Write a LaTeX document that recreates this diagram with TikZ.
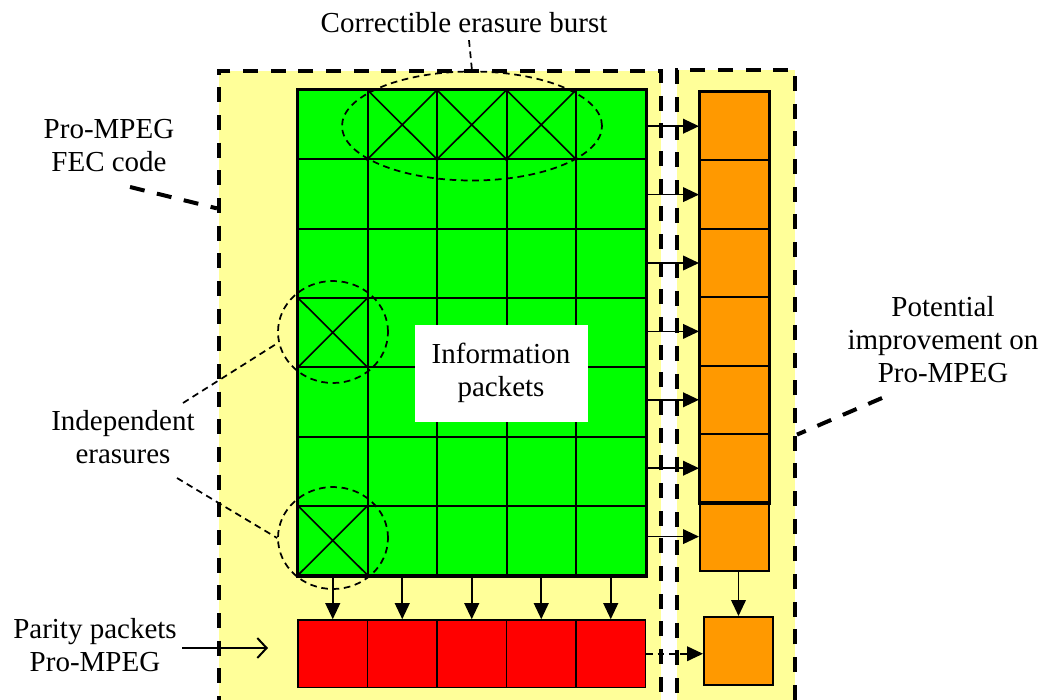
\documentclass[tikz,border=0pt]{standalone}
\usepackage{fontspec}
\setmainfont{Liberation Serif}
\usetikzlibrary{arrows.meta,shapes.geometric,calc}
\definecolor{pale}{HTML}{FFFF99}
\definecolor{grn}{HTML}{00FF00}
\definecolor{org}{HTML}{FF9900}
\definecolor{rd}{HTML}{FF0000}
\begin{document}
\begin{tikzpicture}[x=0.75pt,y=-0.75pt,
  bigdash/.style={line width=3pt, dash pattern=on 11.25pt off 9.5pt},
  thindash/.style={line width=1.3pt, dash pattern=on 5pt off 3.5pt},
  cell/.style={draw, line width=1.5pt, fill=grn, inner sep=0pt, minimum width=52.125pt, minimum height=51.975pt},
  ocell/.style={draw, line width=1.5pt, fill=org, inner sep=0pt, minimum width=51.75pt, minimum height=51.3pt},
  pcell/.style={draw, line width=1.2pt, fill=rd, inner sep=0pt, minimum width=52.125pt, minimum height=50.6pt},
  arr/.style={line width=1.3pt, -{Triangle[length=12pt,width=11pt]}},
  openarr/.style={line width=1.5pt, -{Straight Barb[length=7pt,width=15pt]}},
  lbl/.style={font=\fontsize{21.75}{24.75}\selectfont, align=center, inner sep=0pt},
  erase/.style={ellipse, draw, thindash, inner sep=0pt},
  region/.style={draw, bigdash, fill=pale, inner sep=0pt}
]
\useasboundingbox (0,0) rectangle (1041,699);
\clip (0,0) rectangle (1041,699);
% regions
\node[region, minimum width=331.5pt, minimum height=486.75pt] (fecbox) at (440,395.5) {};
\node[region, minimum width=88.5pt, minimum height=487.5pt] (potbox) at (736,395) {};
% information grid
\foreach \r in {1,...,7}
  \foreach \c in {1,...,5}
    \node[cell] (g-\r-\c) at ({298+69.5*(\c-0.5)}, {90+69.3*(\r-0.5)}) {};
\draw[line width=2.2pt] (g-1-1.north west) rectangle (g-7-5.south east);
\foreach \n in {1-2,1-3,1-4,4-1,7-1}
  \draw[line width=1.2pt] (g-\n.north west) -- (g-\n.south east)
                          (g-\n.north east) -- (g-\n.south west);
\node[lbl, fill=white, minimum width=129.75pt, minimum height=72.75pt] (info) at (501,373) {Information\\packets};
% orange column
\foreach \i in {1,...,7}
  \node[ocell] (o\i) at (734.5, {92+68.4*(\i-0.5)}) {};
\draw[line width=2pt] (o1.north west) rectangle (o6.south east);
\foreach \i in {1,...,7}
  \draw[arr] (o\i.west -| g-1-5.east) -- (o\i.west);
% parity row
\foreach \c in {1,...,5}
  \node[pcell] (p\c) at ({298+69.5*(\c-0.5)}, 653.75) {};
\foreach \c in {1,...,5}
  \draw[arr] (g-7-\c.south) -- (p\c.north);
% small orange box
\node[ocell, minimum height=51pt] (s) at (738.5,651) {};
\draw[arr] (s.north |- o7.south) -- (s.north);
\draw[arr, dash pattern=on 5pt off 3.5pt] (p5.east) -- (p5.east -| s.west);
% erasure ellipses
\node[erase, minimum width=195pt, minimum height=81.75pt] (burst) at (472,126) {};
\node[erase, minimum width=82.5pt, minimum height=76.5pt] (e1) at (333,332) {};
\node[erase, minimum width=82.5pt, minimum height=76.5pt] (e2) at (333,538) {};
% labels
\node[lbl] (title) at (464,23) {Correctible erasure burst};
\draw[thindash] ([yshift=-5pt]title.south -| 469,0) -- (burst.north);
\node[lbl] (fec) at (109,146) {Pro-MPEG\\FEC code};
\coordinate (fecst) at (130,187);
\draw[bigdash] (fecst) -- (fecbox.140);
\node[lbl] (ind) at (123,437) {Independent\\erasures};
\coordinate (ind1) at (183,403);
\coordinate (ind2) at (177,478);
\draw[thindash] (ind1) -- (e1.191);
\draw[thindash] (ind2) -- (e2.west);
\node[lbl] (pot) at (943,340) {Potential\\improvement on\\Pro-MPEG};
\coordinate (potst) at (882,398);
\draw[bigdash] (potst) -- (potbox.-33.5);
\node[lbl] (par) at (95,645) {Parity packets\\Pro-MPEG};
\coordinate (parend) at (268,648);
\draw[openarr] ([xshift=4pt]par.east |- parend) -- (parend);
\end{tikzpicture}
\end{document}
